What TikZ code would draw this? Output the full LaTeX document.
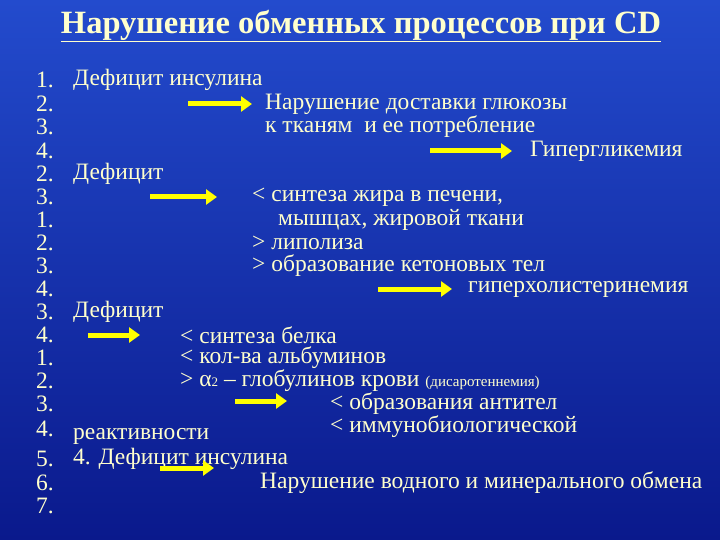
\documentclass[tikz,border=0pt]{standalone}
\usepackage{fontspec}
\setmainfont{Liberation Serif}
\usetikzlibrary{arrows.meta}
\definecolor{txt}{RGB}{255,255,205}
\definecolor{arr}{RGB}{255,255,0}
\definecolor{bgtop}{RGB}{35,75,205}
\definecolor{bgbot}{RGB}{10,25,140}
\begin{document}
\begin{tikzpicture}[x=1pt,y=-1pt,
  t/.style={anchor=west,inner sep=0pt,text=txt,font=\fontsize{23.5}{23.5}\selectfont},
  num/.style={t},
  ar/.style={arr,line width=5pt,-{Triangle[length=11pt,width=15pt]}}]
\useasboundingbox (0,0) rectangle (720,540);
\shade[top color=bgtop,bottom color=bgbot] (0,0) rectangle (720,540);
\node[anchor=center,inner sep=0pt,text=txt,font=\fontsize{32.5}{32.5}\selectfont\bfseries] (title) at (361,26) {\underline{Нарушение обменных процессов при CD}};
\foreach \n/\y [count=\i] in {1./80,2./104,3./127,4./151,2./174,3./197,1./220,2./243,3./266,4./289,3./312,4./335,1./358,2./381,3./404,4./429,5./459,6./483,7./506}
  \node[num] (n\i) at (36,\y) {\n};
\node[t] (a1) at (73,80) {Дефицит инсулина};
\node[t] (a2) at (265,104) {Нарушение доставки глюкозы};
\node[t] (a3) at (265,127) {к тканям\ \ и ее потребление};
\node[t] (a4) at (530,151) {Гипергликемия};
\node[t] (b1) at (73,174) {Дефицит};
\node[t] (b2) at (252,197) {< синтеза жира в печени,};
\node[t] (b3) at (278,220) {мышцах, жировой ткани};
\node[t] (b4) at (252,243) {> липолиза};
\node[t] (b5) at (252,266) {> образование кетоновых тел};
\node[t] (b6) at (468,289) {гиперхолистеринемия};
\node[t] (c1) at (73,312) {Дефицит};
\node[t] (c2) at (180,335) {< синтеза белка};
\node[t] (c3) at (180,358) {< кол-ва альбуминов};
\node[t] (c4) at (180,381) {> α{\fontsize{13}{13}\selectfont 2} – глобулинов крови {\fontsize{15}{15}\selectfont (дисаротеннемия)}};
\node[t] (c5) at (330,404) {< образования антител};
\node[t] (c6) at (330,427) {< иммунобиологической};
\node[t] (c7) at (73,436) {реактивности};
\node[t] (d1) at (73,459) {4. Дефицит инсулина};
\node[t] (d2) at (260,483) {Нарушение водного и минерального обмена};
\coordinate (s1) at (188,104); \coordinate (e1) at (252,104);
\coordinate (s2) at (430,151); \coordinate (e2) at (512,151);
\coordinate (s3) at (150,197); \coordinate (e3) at (217,197);
\coordinate (s4) at (378,289); \coordinate (e4) at (452,289);
\coordinate (s5) at (88,335); \coordinate (e5) at (140,335);
\coordinate (s6) at (235,401); \coordinate (e6) at (287,401);
\coordinate (s7) at (160,468); \coordinate (e7) at (214,468);
\foreach \k in {1,...,7} \draw[ar] (s\k) -- (e\k);
\end{tikzpicture}
\end{document}
